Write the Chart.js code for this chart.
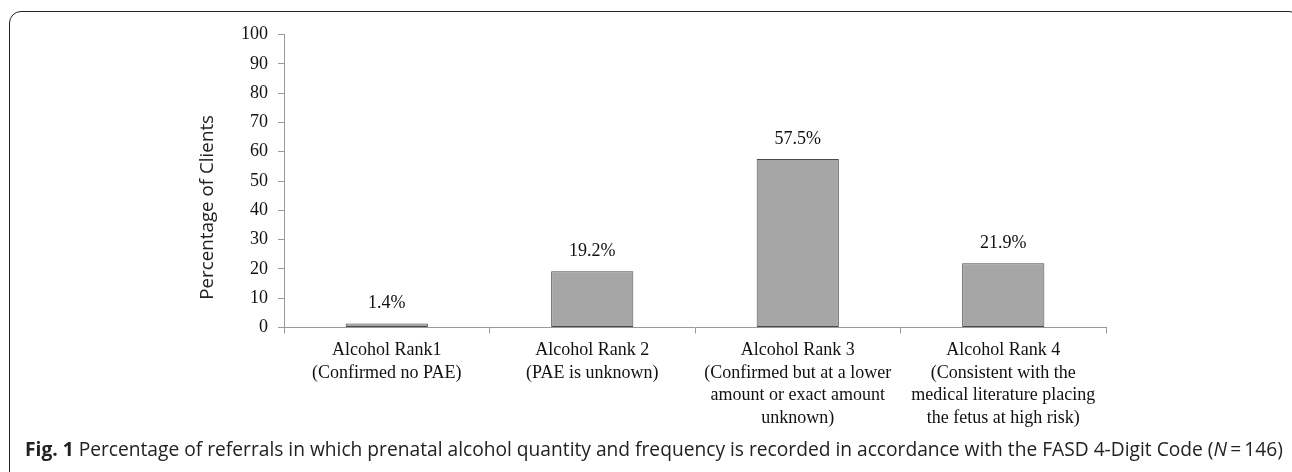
<!DOCTYPE html>
<html lang="en">
<head>
    <meta charset="UTF-8" />
    <title>Fig. 1 Alcohol rank</title>
    <script src="https://cdn.jsdelivr.net/npm/chart.js"></script>
    <style>
        body {
            margin: 0;
            background: #fff;
            width: 1292px;
            height: 472px;
            overflow: hidden;
            position: relative;
        }

        .frame {
            position: absolute;
            left: 9px;
            top: 11px;
            width: 1292px;
            height: 520px;
            border: 1.5px solid #222;
            border-radius: 12px;
            box-sizing: border-box;
        }

        .wrap {
            position: absolute;
            left: 0;
            top: 0;
            width: 1292px;
            height: 440px;
        }

        .caption {
            position: absolute;
            left: 25px;
            top: 439px;
            font-family: 'Open Sans', sans-serif;
            font-size: 19.2px;
            line-height: 19.2px;
            color: #222;
            white-space: nowrap;
        }

            .caption b {
                font-weight: bold;
            }
    </style>
</head>
<body>
    <div class="frame"></div>
    <div class="wrap"><canvas id="chart"></canvas></div>
    <div class="caption"><b>Fig. 1</b> Percentage of referrals in which prenatal alcohol quantity and frequency is recorded in accordance with the FASD 4-Digit Code (<i>N</i>&#8201;=&#8201;146)</div>

    <script>
        const categories = [
            ['Alcohol Rank1', '(Confirmed no PAE)'],
            ['Alcohol Rank 2', '(PAE is unknown)'],
            ['Alcohol Rank 3', '(Confirmed but at a lower', 'amount or exact amount', 'unknown)'],
            ['Alcohol Rank 4', '(Consistent with the', 'medical literature placing', 'the fetus at high risk)']
        ];
        const percentages = [1.4, 19.2, 57.5, 21.9];
        const yTitle = 'Percentage of Clients';

        const serif = "'Liberation Serif', 'Times New Roman', serif";

        // value labels above the bars
        const barLabels = {
            id: 'barLabels',
            afterDatasetsDraw(chart) {
                const ctx = chart.ctx;
                const meta = chart.getDatasetMeta(0);
                ctx.save();
                ctx.font = '18px ' + serif;
                ctx.fillStyle = '#111';
                ctx.textAlign = 'center';
                ctx.textBaseline = 'alphabetic';
                meta.data.forEach((bar, i) => {
                    ctx.fillText(percentages[i].toFixed(1) + '%', bar.x, bar.y - 15);
                });
                ctx.restore();
            }
        };

        // y axis title, sits a bit below the middle of the axis
        const axisTitle = {
            id: 'axisTitle',
            afterDraw(chart) {
                const ctx = chart.ctx;
                const y = chart.scales.y;
                ctx.save();
                ctx.translate(208, y.getPixelForValue(41));
                ctx.rotate(-Math.PI / 2);
                ctx.font = "18.8px 'Open Sans', sans-serif";
                ctx.fillStyle = '#222';
                ctx.textAlign = 'center';
                ctx.textBaseline = 'middle';
                ctx.fillText(yTitle, 0, 0);
                ctx.restore();
            }
        };

        new Chart(document.getElementById('chart'), {
            type: 'bar',
            data: {
                labels: categories,
                datasets: [{
                    data: percentages,
                    backgroundColor: '#a6a6a6',
                    borderColor: '#4a4a4a',
                    borderWidth: 1,
                    borderSkipped: false,
                    categoryPercentage: 1,
                    barPercentage: 0.4
                }]
            },
            options: {
                responsive: true,
                maintainAspectRatio: false,
                animation: false,
                layout: { padding: { left: 198, right: 186, top: 34.5, bottom: 0 } },
                plugins: {
                    legend: { display: false },
                    tooltip: { enabled: false }
                },
                scales: {
                    x: {
                        afterFit(scale) { scale.height = 112.5; },
                        grid: {
                            offset: true,
                            drawOnChartArea: false,
                            drawTicks: true,
                            tickLength: 6,
                            color: '#9a9a9a'
                        },
                        border: { color: '#9a9a9a', width: 1 },
                        ticks: {
                            autoSkip: false,
                            maxRotation: 0,
                            padding: 6,
                            color: '#111',
                            font: { family: serif, size: 18, lineHeight: 1.25 }
                        }
                    },
                    y: {
                        min: 0,
                        max: 100,
                        afterFit(scale) { scale.width = 86; },
                        grid: {
                            drawOnChartArea: false,
                            drawTicks: true,
                            tickLength: 6,
                            color: '#9a9a9a'
                        },
                        border: { color: '#9a9a9a', width: 1 },
                        ticks: {
                            stepSize: 10,
                            padding: 10,
                            color: '#111',
                            font: { family: serif, size: 18 }
                        }
                    }
                }
            },
            plugins: [barLabels, axisTitle]
        });
    </script>
</body>
</html>
